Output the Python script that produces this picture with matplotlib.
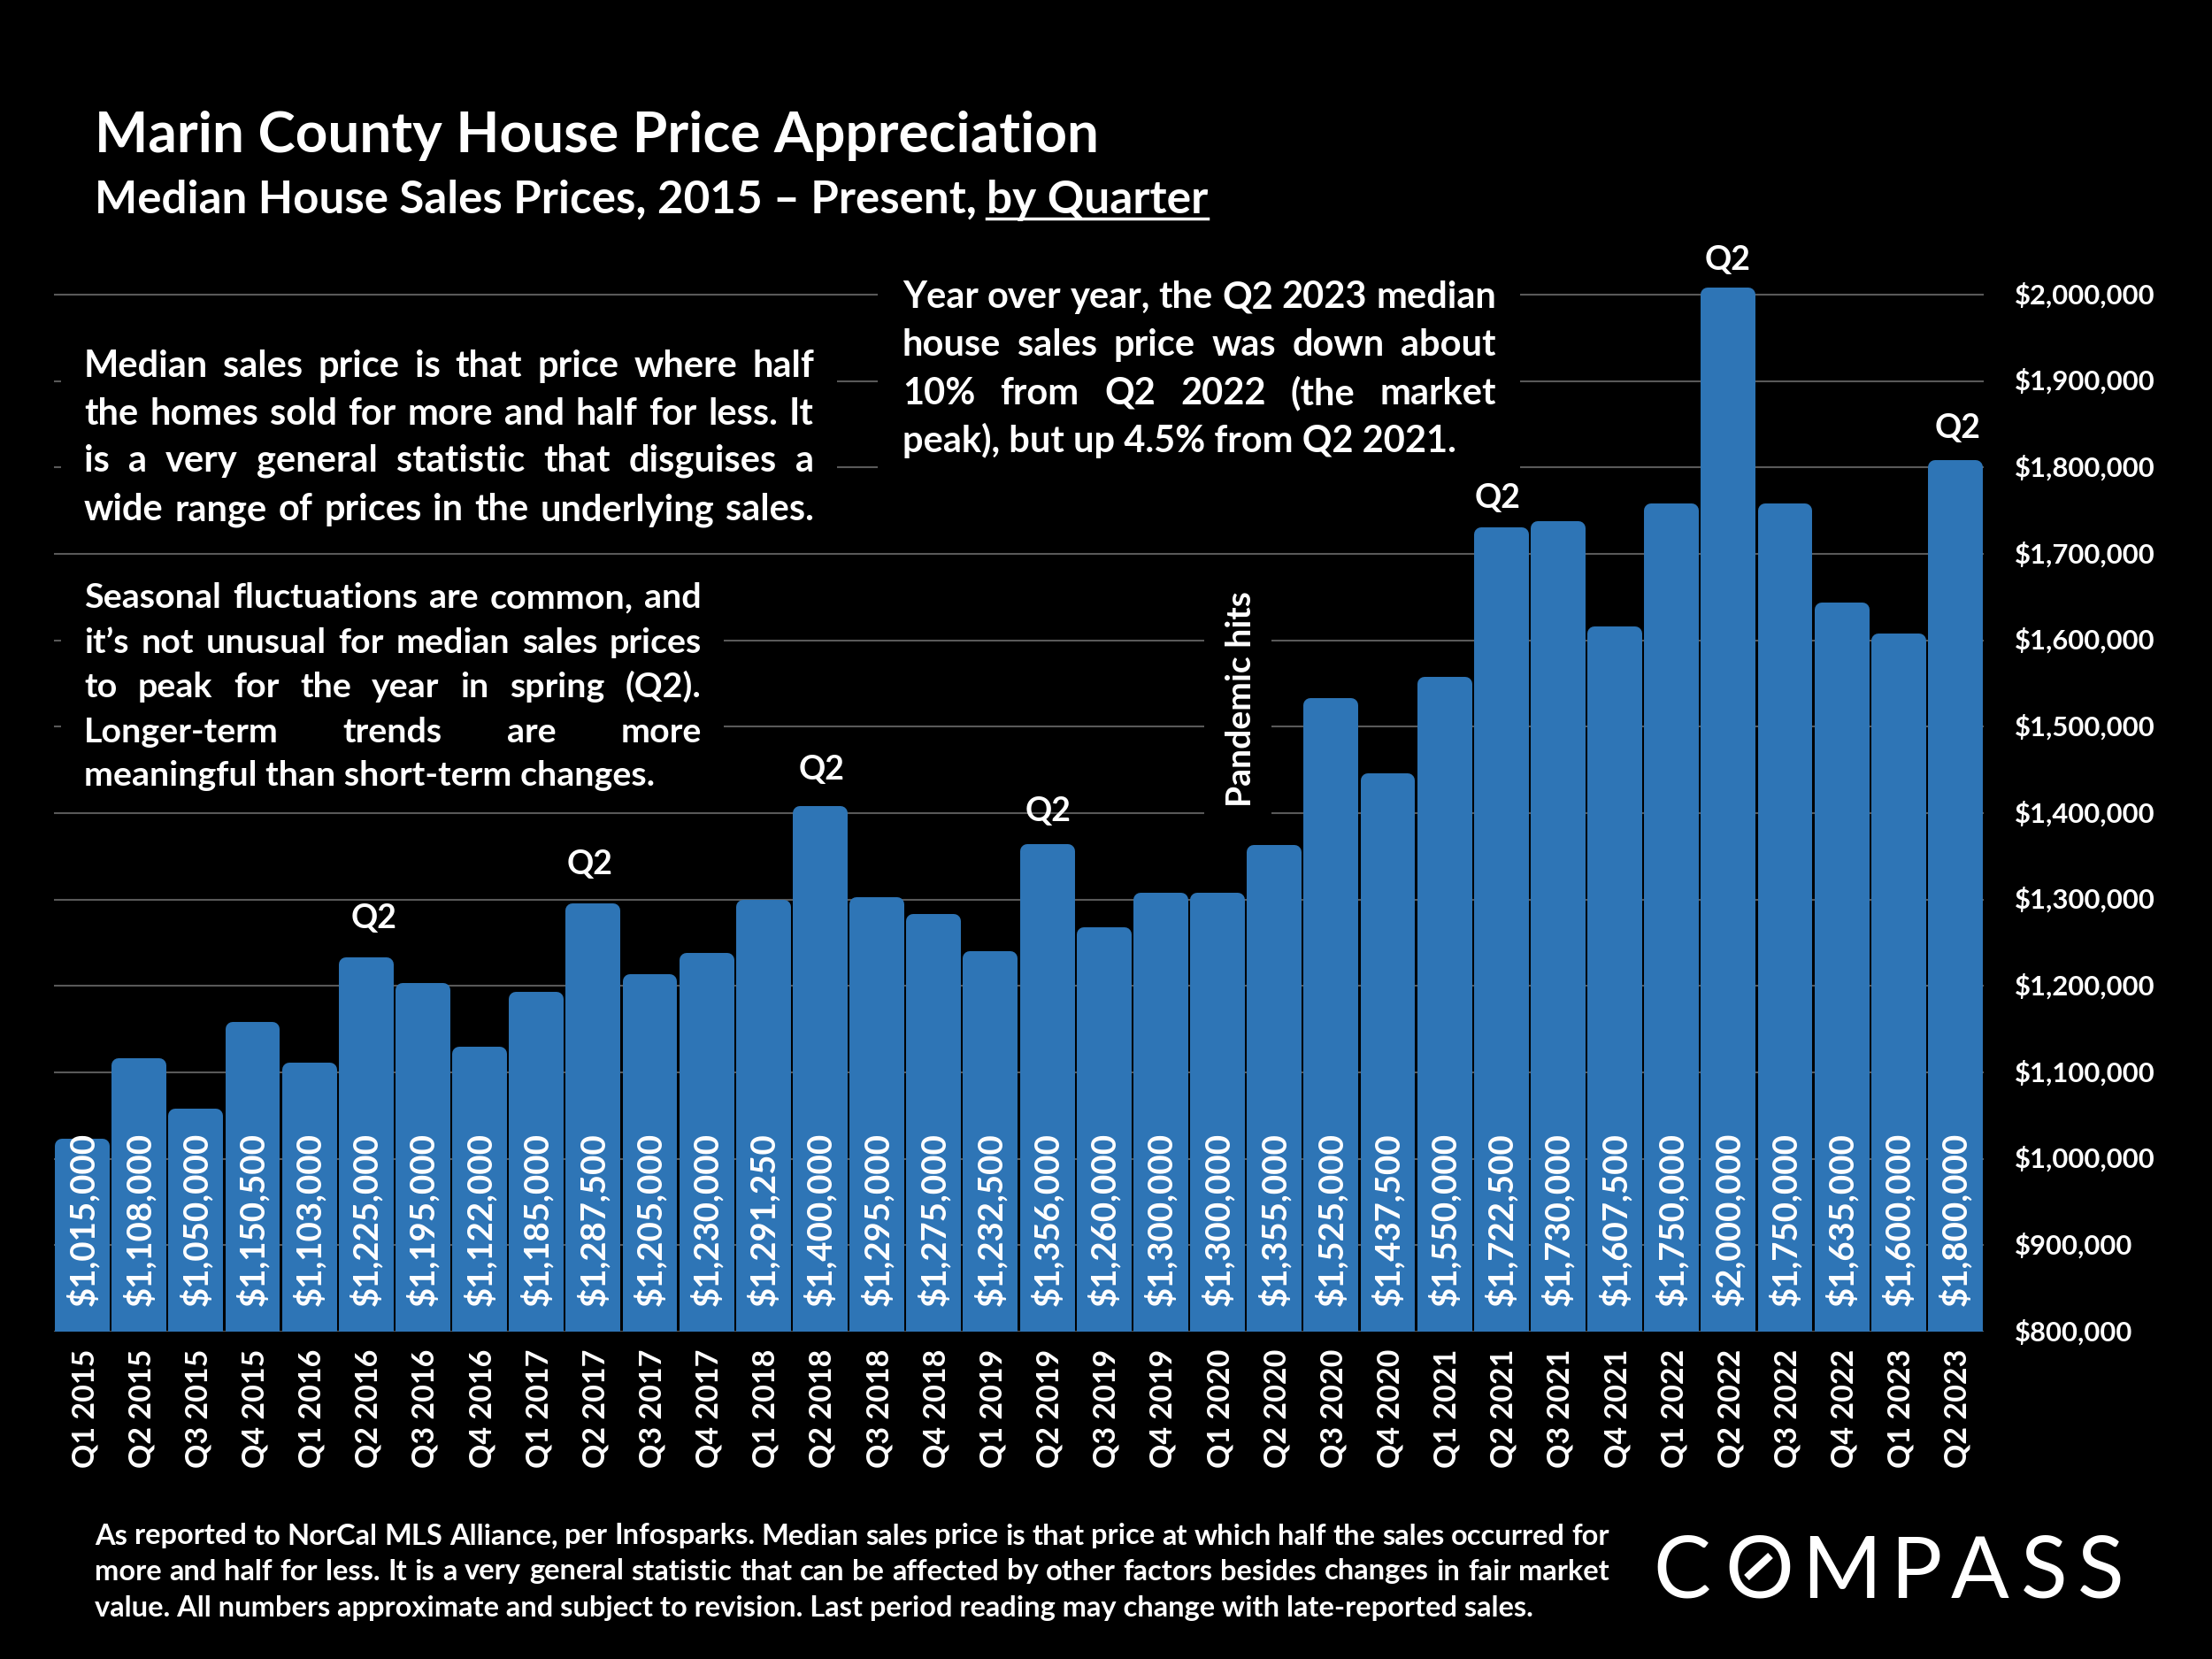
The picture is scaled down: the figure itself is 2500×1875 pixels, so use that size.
"""Marin County median house price by quarter, dark slide style."""
import matplotlib

matplotlib.use("Agg")
import matplotlib.pyplot as plt
from matplotlib.lines import Line2D
from matplotlib.patches import Rectangle
from matplotlib.transforms import ScaledTranslation

W, H = 2500, 1875
FONT = "Lato"

quarters = [
    "Q1 2015", "Q2 2015", "Q3 2015", "Q4 2015", "Q1 2016", "Q2 2016", "Q3 2016",
    "Q4 2016", "Q1 2017", "Q2 2017", "Q3 2017", "Q4 2017", "Q1 2018", "Q2 2018",
    "Q3 2018", "Q4 2018", "Q1 2019", "Q2 2019", "Q3 2019", "Q4 2019", "Q1 2020",
    "Q2 2020", "Q3 2020", "Q4 2020", "Q1 2021", "Q2 2021", "Q3 2021", "Q4 2021",
    "Q1 2022", "Q2 2022", "Q3 2022", "Q4 2022", "Q1 2023", "Q2 2023",
]
prices = [
    1015000, 1108000, 1050000, 1150500, 1103000, 1225000, 1195000, 1122000, 1185000,
    1287500, 1205000, 1230000, 1291250, 1400000, 1295000, 1275000, 1232500, 1356000,
    1260000, 1300000, 1300000, 1355000, 1525000, 1437500, 1550000, 1722500, 1730000,
    1607500, 1750000, 2000000, 1750000, 1635000, 1600000, 1800000,
]
y_ticks = [800000, 900000, 1000000, 1100000, 1200000, 1300000, 1400000,
           1500000, 1600000, 1700000, 1800000, 1900000, 2000000]
q2_marked = ["Q2 2016", "Q2 2017", "Q2 2018", "Q2 2019", "Q2 2021", "Q2 2022", "Q2 2023"]

box_median = [
    "Median sales price is that price where half",
    "the homes sold for more and half for less. It",
    "is a very general statistic that disguises a",
    "wide range of prices in the underlying sales.",
]
box_seasonal = [
    "Seasonal fluctuations are common, and",
    "it’s not unusual for median sales prices",
    "to peak for the year in spring (Q2).",
    "Longer-term trends are more",
    "meaningful than short-term changes.",
]
box_yoy = [
    "Year over year, the Q2 2023 median",
    "house sales price was down about",
    "10% from Q2 2022 (the market",
    "peak), but up 4.5% from Q2 2021.",
]
footnote = [
    "As reported to NorCal MLS Alliance, per Infosparks. Median sales price is that price at which half the sales occurred for",
    "more and half for less. It is a very general statistic that can be affected by other factors besides changes in fair market",
    "value. All numbers approximate and subject to revision. Last period reading may change with late-reported sales.",
]

fig = plt.figure(figsize=(W / 100, H / 100), dpi=100, facecolor="black")
renderer = fig.canvas.get_renderer()


def fx(x):
    return x / W


def fy(y):
    return 1 - y / H


def put(x, y, s, size, **kw):
    kw.setdefault("color", "white")
    kw.setdefault("family", FONT)
    kw.setdefault("weight", "bold")
    kw.setdefault("va", "baseline")
    return fig.text(fx(x), fy(y), s, fontsize=size, **kw)


def justified(lines, x0, x1, baselines, size, last_free=True):
    # PowerPoint justified text: words spread evenly, last line left as is
    for i, (line, y) in enumerate(zip(lines, baselines)):
        if last_free and i == len(lines) - 1:
            put(x0, y, line, size, zorder=6)
            continue
        words = line.split()
        items = [put(x0, y, w, size, zorder=6) for w in words]
        widths = [t.get_window_extent(renderer).width for t in items]
        gap = (x1 - x0 - sum(widths)) / (len(words) - 1)
        x = x0
        for t, w in zip(items, widths):
            t.set_x(fx(x))
            x += w + gap


# axes: 800k at y=1505, 2.0M at y=333, headroom up to 2.1M for the Q2 labels
px_per_dollar = (1505 - 333) / 1200000
top_px = 333 - 100000 * px_per_dollar
ax = fig.add_axes([fx(61), fy(1505), fx(2242) - fx(61), (1505 - top_px) / H])
ax.set_facecolor("none")

x = range(len(quarters))
# thick round-joined edge gives the soft corners of the original bars
bars = ax.bar(x, prices, width=0.715, color="#2E75B6", edgecolor="#2E75B6",
              linewidth=11.5, joinstyle="round", zorder=3)
ax.set_xlim(-0.5, len(quarters) - 0.5)
ax.set_ylim(800000, 2100000)
ax.set_xticks(list(x))
ax.set_xticklabels(quarters, rotation=90, fontsize=24.5, color="white",
                   family=FONT, weight="bold")
ax.tick_params(axis="x", length=0, pad=14)
ax.yaxis.tick_right()
ax.set_yticks(y_ticks)
ax.set_yticklabels([f"${v:,.0f}" for v in y_ticks], fontsize=22.3, color="white",
                   family=FONT, weight="bold", va="center_baseline")
ax.tick_params(axis="y", length=0, pad=25)
ax.grid(axis="y", color="#595959", linewidth=1.5)
ax.set_axisbelow(True)
for s in ax.spines.values():
    s.set_visible(False)

# small nudges so tick labels sit where the slide has them
for lbl in ax.get_xticklabels():
    lbl.set_transform(lbl.get_transform() + ScaledTranslation(0.03, 0, fig.dpi_scale_trans))
for lbl in ax.get_yticklabels():
    lbl.set_transform(lbl.get_transform() + ScaledTranslation(0, 0.02, fig.dpi_scale_trans))

for i, v in enumerate(prices):
    ax.annotate(f"${v:,.0f}", (i, 800000), xytext=(0, 21), textcoords="offset points",
                rotation=90, ha="center", va="bottom", fontsize=27.6, color="white",
                family=FONT, weight="bold", zorder=5)

# hand-placed in the original, so each label gets its own nudge (points)
q2_nudges = [(6, 25), (-3, 25), (1, 23), (0.5, 20), (-3, 17), (-0.5, 16), (1.7, 20)]
for q, nudge in zip(q2_marked, q2_nudges):
    i = quarters.index(q)
    ax.annotate("Q2", (i, prices[i]), xytext=nudge, textcoords="offset points",
                ha="center", va="bottom", fontsize=27, color="white",
                family=FONT, weight="bold", zorder=5)

# black boxes behind the comments cut the gridlines
for x0, x1, y0, y1 in [(69, 946, 360, 600), (69, 818, 650, 890),
                       (992, 1718, 300, 560), (1361, 1437, 650, 930)]:
    ax.add_patch(Rectangle((fx(x0), fy(y1)), fx(x1) - fx(x0), fy(y0) - fy(y1),
                           transform=fig.transFigure, facecolor="black",
                           edgecolor="none", zorder=1, clip_on=False))

# titles
put(107, 172, "Marin County House Price Appreciation", 46)
put(107, 241, "Median House Sales Prices, 2015 – Present,", 36.8)
under = put(1115, 241, "by Quarter", 37)
bb = under.get_window_extent(renderer)
fig.add_artist(Line2D([fx(bb.x0), fx(bb.x1)], [fy(247), fy(247)], color="white", linewidth=2.5))

justified(box_median, 95, 920, [426, 480, 533, 588], 30, last_free=False)
justified(box_seasonal, 95, 793, [687, 738, 788, 839, 888], 28.4)
justified(box_yoy, 1020, 1691, [348, 402, 457, 511], 30)

put(1403, 912, "Pandemic hits", 28.2, rotation=90, ha="center", va="bottom", zorder=6)

justified(footnote, 107, 1819, [1745.5, 1785.5, 1827.5], 23.5)

# logo wordmark, letter by letter
for letter, cx in [("C", 1901), ("O", 1988), ("M", 2081), ("P", 2165),
                   ("A", 2238), ("S", 2310), ("S", 2374)]:
    put(cx, 1806, letter, 70, ha="center", weight="normal")
fig.add_artist(Line2D([fx(1974), fx(2001)], [fy(1783), fy(1758)], color="white",
                      linewidth=6, solid_capstyle="butt"))

fig.savefig("out.png", dpi=100, facecolor="black")
